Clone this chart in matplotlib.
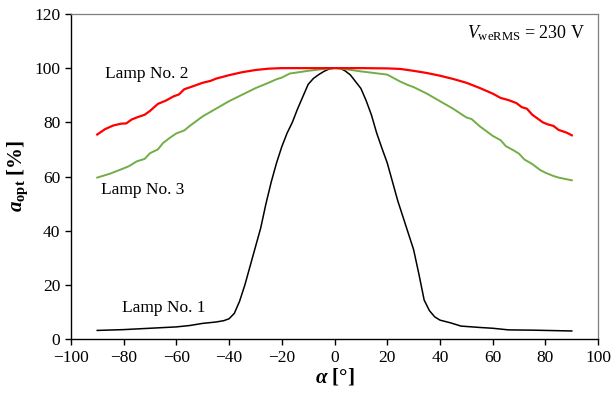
import matplotlib
matplotlib.use("Agg")
import matplotlib.pyplot as plt

# angle (deg) and relative optical output (%) for the three lamps
ang_lamp1 = [-90, -80, -70, -60, -55, -50, -45, -42, -40, -38, -36, -34, -32, -30, -28, -26, -24,
             -22, -20, -18, -16, -14, -12, -10, -8, -6, -4, -2, 0, 2, 4, 6, 8, 10, 12, 14, 16,
             18, 20, 22, 24, 26, 28, 30, 32, 34, 36, 38, 40, 44, 48, 55, 60, 66, 75, 90]
val_lamp1 = [3.2, 3.5, 4.0, 4.5, 5.0, 5.8, 6.3, 6.8, 7.5, 9.5, 14, 20, 27, 34, 41, 50, 58,
             65, 71, 76, 80, 85, 89.5, 94, 96.2, 97.6, 98.8, 99.7, 100, 100, 99, 97.5, 95, 92.5, 88, 82.7, 76,
             70.4, 65, 58, 51, 45, 39, 33, 24, 14.4, 10.5, 8.2, 7.0, 6.0, 4.8, 4.3, 4.0, 3.4, 3.3, 3.0]

ang_lamp2 = [-90, -87, -84, -81, -79, -77, -75, -72, -70, -67, -64, -61, -59, -57, -54, -50, -47, -45,
             -40, -35, -30, -25, -20, -10, 0, 10, 20, 25, 30, 35, 40, 45, 50, 55, 60, 63, 66, 69,
             71, 73, 75, 77, 79, 81, 83, 85, 88, 90]
val_lamp2 = [75.5, 77.5, 78.8, 79.5, 79.6, 81, 81.8, 82.8, 84.2, 86.8, 88, 89.6, 90.3, 92.2, 93.2, 94.6, 95.3, 96.1,
             97.4, 98.5, 99.3, 99.8, 100, 100, 100, 100, 99.9, 99.7, 99.0, 98.2, 97.2, 96.0, 94.6, 92.7, 90.6, 89.0, 88.2, 87.1,
             85.6, 85.0, 82.8, 81.4, 80.0, 79.2, 78.7, 77.2, 76.2, 75.2]

ang_lamp3 = [-90, -85, -80, -78, -75, -72, -70, -67, -65, -62, -60, -57, -55, -50, -45, -40, -35,
             -30, -25, -22, -20, -17, -10, -5, 0, 5, 10, 15, 20, 25, 28, 30, 35, 40, 45, 50, 52,
             55, 60, 63, 65, 68, 70, 72, 75, 78, 80, 83, 85, 90]
val_lamp3 = [59.6, 61.1, 63.0, 63.8, 65.6, 66.5, 68.6, 70.0, 72.4, 74.6, 75.9, 77.0, 78.6, 82.2, 85.0, 87.8, 90.2,
             92.6, 94.6, 95.9, 96.5, 98.0, 99.0, 99.6, 100, 99.5, 98.8, 98.2, 97.6, 95.0, 93.7, 93.0, 90.6, 87.8, 85.0, 81.8, 81.2,
             78.6, 75.0, 73.4, 71.2, 69.6, 68.4, 66.3, 64.6, 62.4, 61.4, 60.2, 59.6, 58.6]

lamp_names = ["Lamp No. 1", "Lamp No. 2", "Lamp No. 3"]

plt.rcParams["font.family"] = "Liberation Serif"
plt.rcParams["mathtext.fontset"] = "custom"
plt.rcParams["mathtext.rm"] = "Liberation Serif"
plt.rcParams["mathtext.it"] = "Liberation Serif:italic"
plt.rcParams["mathtext.bf"] = "Liberation Serif:bold"
plt.rcParams["mathtext.bfit"] = "Liberation Serif:italic:bold"

fig = plt.figure(figsize=(6.11, 3.98), dpi=100)
ax = fig.add_axes([0.116, 0.148, 0.863, 0.817])

ax.plot(ang_lamp1, val_lamp1, color="black", lw=1.1)
ax.plot(ang_lamp3, val_lamp3, color="#72ad45", lw=1.4)
ax.plot(ang_lamp2, val_lamp2, color="#ff0000", lw=1.6)

ax.set_xlim(-100, 100)
ax.set_ylim(0, 120)
ax.set_xticks(range(-100, 101, 20))
ax.set_yticks(range(0, 121, 20))
ax.set_xticklabels([str(t).replace("-", "\u2212") for t in range(-100, 101, 20)])
ax.tick_params(labelsize=12.5, direction="out", length=4, width=1, color="black")

for s in ("top", "right"):
    ax.spines[s].set_color("#7f7f7f")
    ax.spines[s].set_linewidth(0.9)
for s in ("left", "bottom"):
    ax.spines[s].set_color("black")
    ax.spines[s].set_linewidth(1.0)

ax.set_xlabel(r"$\mathbfit{\alpha}$ [°]", fontsize=15, fontweight="bold", labelpad=1)
ax.set_ylabel(r"$\mathbfit{a}_{\mathbf{opt}}$ [%]", fontsize=15, fontweight="bold", labelpad=3)

ax.text(-87, 98, lamp_names[1], fontsize=12.5, va="center", ha="left")
ax.text(-88.6, 55, lamp_names[2], fontsize=12.5, va="center", ha="left")
ax.text(-80.6, 11.5, lamp_names[0], fontsize=12.5, va="center", ha="left")
ax.text(95, 113, r"$\mathit{V}_{\mathrm{weRMS}}$ = 230 V", fontsize=13, va="center", ha="right")

fig.savefig("out.png", dpi=100)
